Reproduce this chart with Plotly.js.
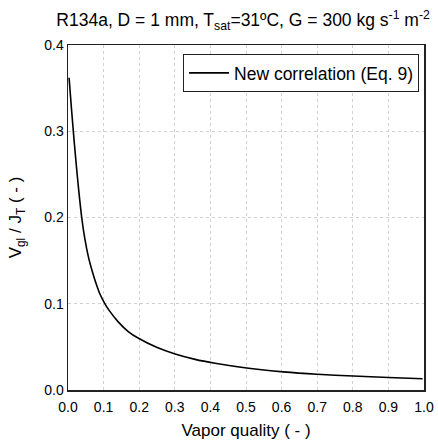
<!DOCTYPE html>
<html>
<head>
<meta charset="utf-8">
<script src="https://cdn.plot.ly/plotly-3.0.1.min.js"></script>
<style>html,body{margin:0;padding:0;background:#fff;}#chart{width:438px;height:447px;}</style>
</head>
<body>
<div id="chart"></div>
<script>
const vaporQuality = [0.003, 0.010, 0.017, 0.0244, 0.030, 0.0385, 0.047, 0.057, 0.070, 0.080, 0.090, 0.105, 0.116, 0.141, 0.170, 0.198, 0.249, 0.301, 0.357, 0.413, 0.502, 0.605, 0.700, 0.801, 0.900, 0.996];
const vglOverJt = [0.362, 0.325, 0.290, 0.256, 0.232, 0.200, 0.176, 0.155, 0.135, 0.122, 0.111, 0.0990, 0.0920, 0.0790, 0.0675, 0.0600, 0.0495, 0.0417, 0.0355, 0.0310, 0.0255, 0.0210, 0.0182, 0.0162, 0.0145, 0.0131];
const seriesName = 'New correlation (Eq. 9)';
const xTicks = [0, 0.1, 0.2, 0.3, 0.4, 0.5, 0.6, 0.7, 0.8, 0.9, 1.0];
const yTicks = [0, 0.1, 0.2, 0.3, 0.4];

const font = 'Liberation Sans, Arial, sans-serif';
const trace = {
  x: vaporQuality, y: vglOverJt, type: 'scatter', mode: 'lines',
  name: seriesName, line: {color: '#000', width: 1.6, shape: 'spline', smoothing: 0.6}
};
const axisCommon = {
  showline: true, mirror: true, linecolor: '#222', linewidth: 1.5,
  showgrid: true, gridcolor: '#d0d0d0', griddash: 'dot', gridwidth: 1,
  zeroline: false, ticks: '', tickformat: '.1f',
  tickfont: {family: font, size: 14, color: '#000'}, automargin: false
};
const layout = {
  width: 438, height: 447,
  margin: {l: 68, r: 14, t: 45, b: 57},
  paper_bgcolor: '#fff', plot_bgcolor: '#fff',
  font: {family: font, color: '#000'},
  title: {text: 'R134a, D = 1 mm, T<sub>sat</sub>=31ºC, G = 300 kg s<sup>-1</sup> m<sup>-2</sup>',
          font: {family: font, size: 17.5, color: '#000'}, x: 0.555, xanchor: 'center', y: 0.955, yanchor: 'middle'},
  xaxis: Object.assign({}, axisCommon, {range: [0, 1.0], tickvals: xTicks, ticks: 'outside', ticklen: 4, tickcolor: 'rgba(0,0,0,0)',
    title: {text: 'Vapor quality ( - )', font: {family: font, size: 17, color: '#000'}, standoff: 10}}),
  yaxis: Object.assign({}, axisCommon, {range: [0, 0.4], tickvals: yTicks,
    title: {text: 'V<sub>gl</sub> / J<sub>T</sub> ( - )', font: {family: font, size: 17, color: '#000'}, standoff: 18}}),
  showlegend: true,
  legend: {x: 0.986, xanchor: 'right', y: 0.974, yanchor: 'top', bgcolor: '#fff',
           bordercolor: '#222', borderwidth: 1, font: {family: font, size: 17.5, color: '#000'},
           tracegroupgap: 0, itemwidth: 40}
};
Plotly.newPlot('chart', [trace], layout, {displayModeBar: false, staticPlot: true});
</script>
</body>
</html>
